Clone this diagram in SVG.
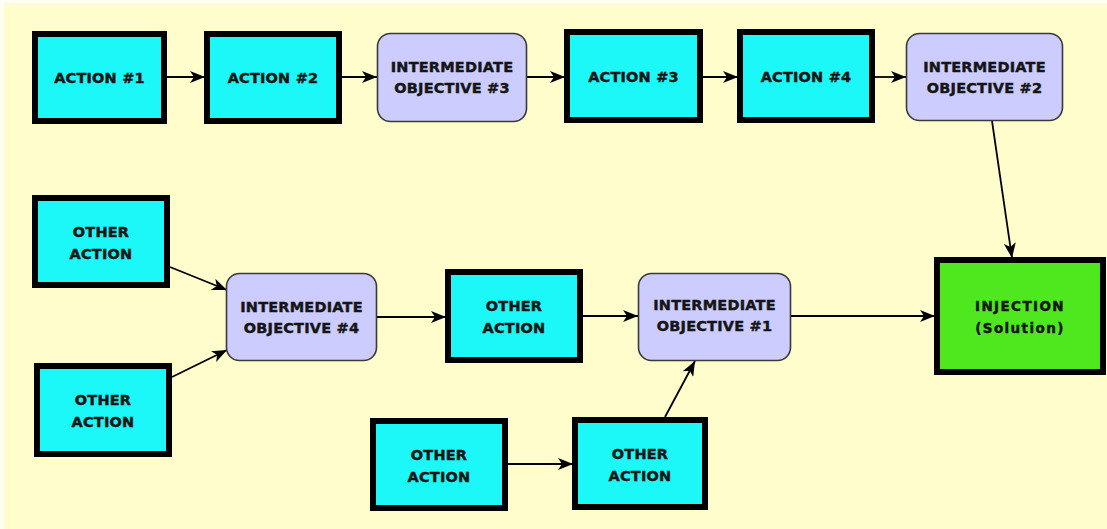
<svg xmlns="http://www.w3.org/2000/svg" width="1107" height="529" viewBox="0 0 1107 529">
  <style>
    .act { fill: #1CF7F7; stroke: #000; stroke-width: 6; }
    .obj { fill: #CCCCFF; stroke: #3a3a3a; stroke-width: 1.6; }
    .inj { fill: #4FE81E; stroke: #000; stroke-width: 6; }
    .lbl { font-family: "DejaVu Sans", "Liberation Sans", sans-serif; font-weight: bold; font-size: 14.5px; fill: #151515; stroke: #151515; stroke-width: 0.45; text-anchor: middle; letter-spacing: 0.2px; }
    .sm { font-size: 13.5px; letter-spacing: 1.4px; }
    .edge { stroke: #000; stroke-width: 1.8; fill: none; marker-end: url(#head); }
  </style>
  <defs>
    <marker id="head" markerUnits="userSpaceOnUse" markerWidth="15" markerHeight="12" refX="15" refY="6" orient="auto">
      <path d="M0,0 L15,6 L0,12 L4,6 Z" fill="#000"/>
    </marker>
  </defs>

  <!-- background -->
  <rect x="0" y="0" width="1107" height="529" fill="#FFFFF2"/>
  <rect x="4" y="3" width="1103" height="526" fill="#FFFDCC"/>

  <!-- connectors -->
  <g id="connectors">
    <line class="edge" x1="167" y1="77" x2="205" y2="77"/>
    <line class="edge" x1="342" y1="77" x2="377" y2="77"/>
    <line class="edge" x1="527" y1="77" x2="565" y2="77"/>
    <line class="edge" x1="703" y1="77" x2="738" y2="77"/>
    <line class="edge" x1="875" y1="77" x2="906" y2="77"/>
    <line class="edge" x1="992" y1="121" x2="1012" y2="258"/>
    <line class="edge" x1="170" y1="267" x2="227" y2="290"/>
    <line class="edge" x1="172" y1="377" x2="227" y2="350"/>
    <line class="edge" x1="377" y1="317" x2="446" y2="317"/>
    <line class="edge" x1="583" y1="316" x2="638" y2="316"/>
    <line class="edge" x1="791" y1="316" x2="935" y2="316"/>
    <line class="edge" x1="508" y1="464" x2="573" y2="464"/>
    <line class="edge" x1="665" y1="417" x2="695" y2="361"/>
  </g>

  <!-- top row -->
  <g id="action1">
    <rect class="act" x="35" y="34" width="129" height="87"/>
    <text class="lbl" x="99.5" y="82.5">ACTION #1</text>
  </g>
  <g id="action2">
    <rect class="act" x="207" y="34" width="132" height="87"/>
    <text class="lbl" x="273" y="82.5">ACTION #2</text>
  </g>
  <g id="objective3">
    <rect class="obj" x="377.5" y="33.5" width="149" height="88" rx="13"/>
    <text class="lbl" x="452" y="72">INTERMEDIATE</text>
    <text class="lbl" x="452" y="93">OBJECTIVE #3</text>
  </g>
  <g id="action3">
    <rect class="act" x="567" y="32" width="133" height="88"/>
    <text class="lbl" x="633.5" y="81.5">ACTION #3</text>
  </g>
  <g id="action4">
    <rect class="act" x="740" y="32" width="132" height="88"/>
    <text class="lbl" x="806" y="81.5">ACTION #4</text>
  </g>
  <g id="objective2">
    <rect class="obj" x="906.5" y="33.5" width="156" height="87" rx="13"/>
    <text class="lbl" x="984.5" y="71.5">INTERMEDIATE</text>
    <text class="lbl" x="984.5" y="92.5">OBJECTIVE #2</text>
  </g>

  <!-- lower part -->
  <g id="other1">
    <rect class="act" x="35" y="198" width="132" height="87"/>
    <text class="lbl" x="101" y="237">OTHER</text>
    <text class="lbl" x="101" y="259">ACTION</text>
  </g>
  <g id="other2">
    <rect class="act" x="37" y="366" width="132" height="88"/>
    <text class="lbl" x="103" y="405">OTHER</text>
    <text class="lbl" x="103" y="427">ACTION</text>
  </g>
  <g id="objective4">
    <rect class="obj" x="226.5" y="273.5" width="150" height="87" rx="13"/>
    <text class="lbl" x="301.5" y="312">INTERMEDIATE</text>
    <text class="lbl" x="301.5" y="333">OBJECTIVE #4</text>
  </g>
  <g id="other3">
    <rect class="act" x="448" y="272" width="132" height="88"/>
    <text class="lbl" x="514" y="311">OTHER</text>
    <text class="lbl" x="514" y="333">ACTION</text>
  </g>
  <g id="objective1">
    <rect class="obj" x="638.5" y="273.5" width="152" height="87" rx="13"/>
    <text class="lbl" x="714.5" y="310">INTERMEDIATE</text>
    <text class="lbl" x="714.5" y="331">OBJECTIVE #1</text>
  </g>
  <g id="other4">
    <rect class="act" x="373" y="421" width="132" height="87"/>
    <text class="lbl" x="439" y="460">OTHER</text>
    <text class="lbl" x="439" y="482">ACTION</text>
  </g>
  <g id="other5">
    <rect class="act" x="575" y="420" width="130" height="87"/>
    <text class="lbl" x="640" y="459">OTHER</text>
    <text class="lbl" x="640" y="481">ACTION</text>
  </g>
  <g id="injection">
    <rect class="inj" x="937" y="260" width="166" height="112"/>
    <text class="lbl sm" x="1020" y="311">INJECTION</text>
    <text class="lbl sm" x="1020" y="333">(Solution)</text>
  </g>
</svg>
